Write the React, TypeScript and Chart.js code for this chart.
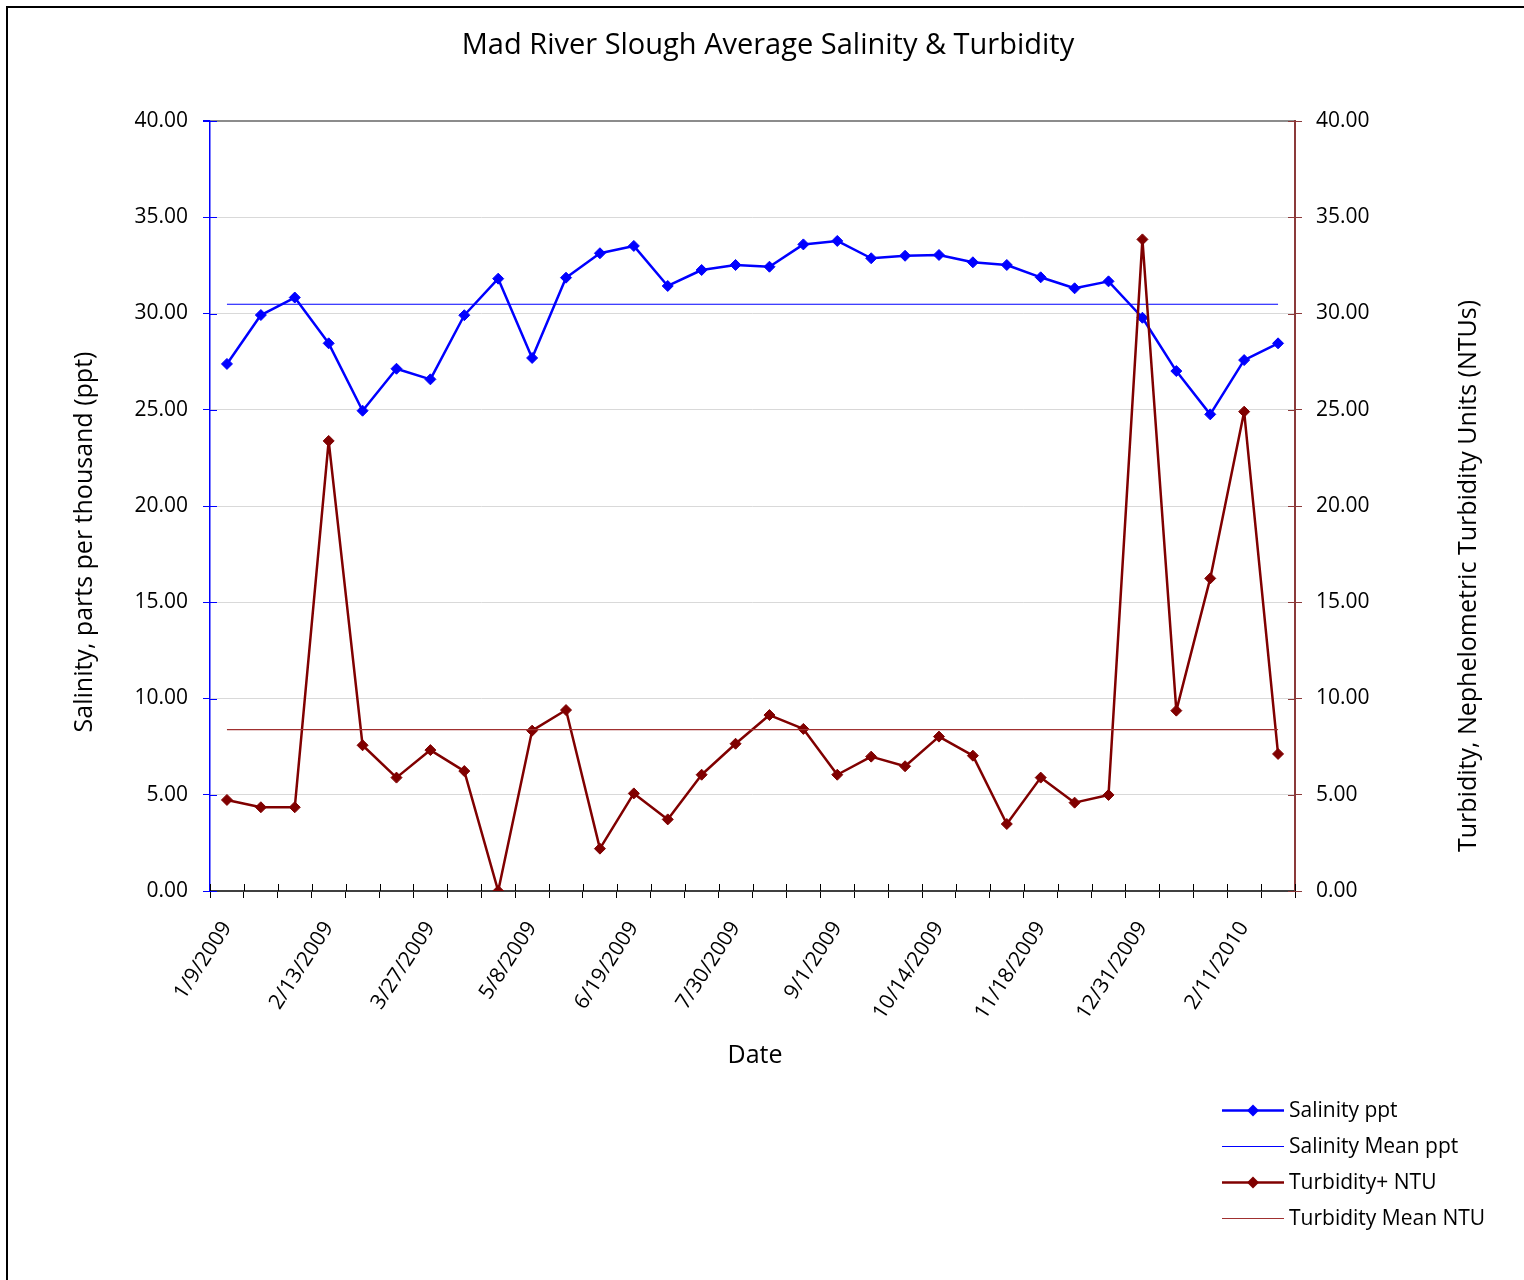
import React, { useEffect, useRef } from 'react';
import { Chart, registerables } from 'chart.js';

Chart.register(...registerables);

const CHART_TITLE = 'Mad River Slough Average Salinity & Turbidity';
const X_TITLE = 'Date';
const Y_LEFT_TITLE = 'Salinity, parts per thousand (ppt)';
const Y_RIGHT_TITLE = 'Turbidity, Nephelometric Turbidity Units (NTUs)';

const dates = [
  '1/9/2009', '1/21/2009', '2/2/2009', '2/13/2009', '2/27/2009', '3/13/2009',
  '3/27/2009', '4/10/2009', '4/24/2009', '5/8/2009', '5/22/2009', '6/5/2009',
  '6/19/2009', '7/2/2009', '7/16/2009', '7/30/2009', '8/11/2009', '8/21/2009',
  '9/1/2009', '9/15/2009', '9/29/2009', '10/14/2009', '10/26/2009', '11/6/2009',
  '11/18/2009', '12/2/2009', '12/16/2009', '12/31/2009', '1/14/2010', '1/28/2010',
  '2/11/2010', '2/25/2010',
];

const salinity = [
  27.38, 29.92, 30.83, 28.45, 24.95, 27.13, 26.58, 29.91, 31.81, 27.69,
  31.86, 33.13, 33.51, 31.43, 32.26, 32.52, 32.43, 33.59, 33.77, 32.87,
  33.0, 33.04, 32.66, 32.52, 31.88, 31.31, 31.67, 29.78, 27.01, 24.76,
  27.58, 28.45,
];

const turbidity = [
  4.73, 4.35, 4.35, 23.38, 7.57, 5.89, 7.32, 6.23, 0.0, 8.33,
  9.4, 2.2, 5.07, 3.72, 6.04, 7.65, 9.14, 8.42, 6.04, 6.98,
  6.48, 8.02, 7.03, 3.48, 5.89, 4.59, 4.99, 33.85, 9.37, 16.24,
  24.9, 7.12,
];

const salinityMean = 30.48;
const turbidityMean = 8.38;

const Y_MIN = 0;
const Y_MAX = 40;
const Y_STEP = 5;
const LABEL_EVERY = 3;

const FONT = "'Open Sans', sans-serif";
const BLUE = '#0000FF';
const DARK_RED = '#800000';
const MEAN_RED = '#A03030';
const RIGHT_AXIS = '#8B3A3A';

const CANVAS_W = 1516;
const CANVAS_H = 1272;
const AREA_LEFT = 202;
const AREA_RIGHT = 1287;
const AREA_TOP = 113;
const AREA_BOTTOM = 883;

function drawDiamond(ctx: CanvasRenderingContext2D, x: number, y: number, r: number, color: string) {
  ctx.beginPath();
  ctx.moveTo(x - r, y);
  ctx.lineTo(x, y - r);
  ctx.lineTo(x + r, y);
  ctx.lineTo(x, y + r);
  ctx.closePath();
  ctx.fillStyle = color;
  ctx.fill();
}

const decorPlugin = {
  id: 'decor',
  afterDraw(chart: any) {
    const { ctx, chartArea, scales } = chart;
    ctx.save();

    // inner halves of crossing tick marks
    const line = (x1: number, y1: number, x2: number, y2: number, c: string) => {
      ctx.beginPath();
      ctx.moveTo(x1, y1);
      ctx.lineTo(x2, y2);
      ctx.strokeStyle = c;
      ctx.lineWidth = 1;
      ctx.stroke();
    };
    const yL = scales.y;
    const yR = scales.y1;
    yL.ticks.forEach((_t: any, i: number) => {
      const py = Math.round(yL.getPixelForTick(i)) + 0.5;
      line(chartArea.left, py, chartArea.left + 7, py, BLUE);
    });
    yR.ticks.forEach((_t: any, i: number) => {
      const py = Math.round(yR.getPixelForTick(i)) + 0.5;
      line(chartArea.right - 7, py, chartArea.right, py, RIGHT_AXIS);
    });
    const xs = scales.x;
    const half = (xs.getPixelForValue(1) - xs.getPixelForValue(0)) / 2;
    for (let i = 0; i <= dates.length; i++) {
      const px = Math.round(xs.getPixelForValue(i) - half) + 0.5;
      line(px, chartArea.bottom - 7, px, chartArea.bottom, '#000');
    }

    // titles
    ctx.fillStyle = '#000';
    ctx.textAlign = 'center';
    ctx.textBaseline = 'middle';
    ctx.font = `29px ${FONT}`;
    ctx.fillText(CHART_TITLE, 760, 38);

    ctx.font = `25px ${FONT}`;
    ctx.fillText(X_TITLE, 747, 1048);

    ctx.save();
    ctx.translate(77, 534);
    ctx.rotate(-Math.PI / 2);
    ctx.fillText(Y_LEFT_TITLE, 0, 0);
    ctx.restore();

    ctx.save();
    ctx.translate(1461, 568);
    ctx.rotate(-Math.PI / 2);
    ctx.fillText(Y_RIGHT_TITLE, 0, 0);
    ctx.restore();

    // legend
    const rows = [1102, 1138, 1174, 1210];
    ctx.font = `21px ${FONT}`;
    ctx.textAlign = 'left';
    chart.data.datasets.forEach((ds: any, i: number) => {
      const y = rows[i] + 0.5;
      ctx.beginPath();
      ctx.moveTo(1214, y);
      ctx.lineTo(1276, y);
      ctx.strokeStyle = ds.borderColor;
      ctx.lineWidth = ds.borderWidth;
      ctx.stroke();
      if (ds.pointRadius > 0) drawDiamond(ctx, 1245, y, 6, ds.backgroundColor);
      ctx.fillStyle = '#000';
      ctx.fillText(ds.label, 1281, rows[i] + 1);
    });

    ctx.restore();
  },
};

export default function App() {
  const ref = useRef<HTMLCanvasElement>(null);

  useEffect(() => {
    if (!ref.current) return;
    Chart.defaults.font.family = FONT;
    Chart.defaults.color = '#000';

    const yTickCb = (v: any) => Number(v).toFixed(2);

    const chart = new Chart(ref.current, {
      type: 'line',
      data: {
        labels: dates,
        datasets: [
          {
            label: 'Salinity ppt',
            data: salinity,
            yAxisID: 'y',
            borderColor: BLUE,
            backgroundColor: BLUE,
            borderWidth: 2.5,
            borderJoinStyle: 'round',
            pointStyle: 'rectRot',
            pointRadius: 5.5,
            pointBorderWidth: 1,
            pointBackgroundColor: BLUE,
            pointBorderColor: BLUE,
            tension: 0,
            order: 4,
          },
          {
            label: 'Salinity Mean ppt',
            data: [
              { x: dates[0], y: salinityMean },
              { x: dates[dates.length - 1], y: salinityMean },
            ],
            yAxisID: 'y',
            borderColor: BLUE,
            backgroundColor: BLUE,
            borderWidth: 1.2,
            pointRadius: 0,
            order: 3,
          },
          {
            label: 'Turbidity+ NTU',
            data: turbidity,
            yAxisID: 'y1',
            borderColor: DARK_RED,
            backgroundColor: DARK_RED,
            borderWidth: 2.5,
            borderJoinStyle: 'round',
            pointStyle: 'rectRot',
            pointRadius: 5.5,
            pointBorderWidth: 1,
            pointBackgroundColor: DARK_RED,
            pointBorderColor: DARK_RED,
            tension: 0,
            order: 2,
          },
          {
            label: 'Turbidity Mean NTU',
            data: [
              { x: dates[0], y: turbidityMean },
              { x: dates[dates.length - 1], y: turbidityMean },
            ],
            yAxisID: 'y1',
            borderColor: MEAN_RED,
            backgroundColor: MEAN_RED,
            borderWidth: 1.2,
            pointRadius: 0,
            order: 1,
          },
        ],
      } as any,
      options: {
        animation: false,
        responsive: false,
        maintainAspectRatio: false,
        devicePixelRatio: 1,
        layout: { padding: { top: AREA_TOP, left: 0, right: 0, bottom: 0 } },
        plugins: {
          legend: { display: false },
          title: { display: false },
          tooltip: { enabled: false },
        },
        scales: {
          x: {
            type: 'category',
            offset: true,
            grid: {
              display: true,
              drawOnChartArea: false,
              offset: true,
              drawTicks: true,
              tickLength: 7,
              tickColor: '#000',
              tickWidth: 1,
            },
            border: { display: true, color: '#404040', width: 2 },
            ticks: {
              autoSkip: false,
              maxRotation: 57,
              minRotation: 57,
              padding: 19,
              color: '#000',
              font: { size: 21, family: FONT },
              callback: (_v: any, i: number) => (i % LABEL_EVERY === 0 ? dates[i] : ''),
            },
            afterFit: (s: any) => {
              s.height = CANVAS_H - AREA_BOTTOM;
            },
          },
          y: {
            position: 'left',
            min: Y_MIN,
            max: Y_MAX,
            ticks: {
              stepSize: Y_STEP,
              padding: 15,
              color: '#000',
              font: { size: 21, family: FONT },
              callback: yTickCb,
            },
            grid: {
              color: (c: any) => (c.tick && c.tick.value === Y_MAX ? '#8c8c8c' : '#d9d9d9'),
              lineWidth: (c: any) => (c.tick && c.tick.value === Y_MAX ? 2 : 1),
              tickColor: BLUE,
              tickLength: 7,
              drawTicks: true,
            },
            border: { color: BLUE, width: 1.5 },
            afterFit: (s: any) => {
              s.width = AREA_LEFT;
            },
          },
          y1: {
            position: 'right',
            min: Y_MIN,
            max: Y_MAX,
            ticks: {
              stepSize: Y_STEP,
              padding: 14,
              color: '#000',
              font: { size: 21, family: FONT },
              callback: yTickCb,
            },
            grid: {
              drawOnChartArea: false,
              tickColor: RIGHT_AXIS,
              tickLength: 7,
              drawTicks: true,
            },
            border: { color: RIGHT_AXIS, width: 2 },
            afterFit: (s: any) => {
              s.width = CANVAS_W - AREA_RIGHT;
            },
          },
        },
      } as any,
      plugins: [decorPlugin],
    });

    return () => chart.destroy();
  }, []);

  return (
    <div
      style={{
        position: 'absolute',
        left: 6,
        top: 6,
        width: CANVAS_W,
        height: CANVAS_H,
        borderTop: '2px solid #000',
        borderLeft: '2px solid #000',
        background: '#fff',
      }}
    >
      <canvas
        ref={ref}
        width={CANVAS_W}
        height={CANVAS_H}
        style={{ display: 'block', width: CANVAS_W, height: CANVAS_H }}
      />
    </div>
  );
}
